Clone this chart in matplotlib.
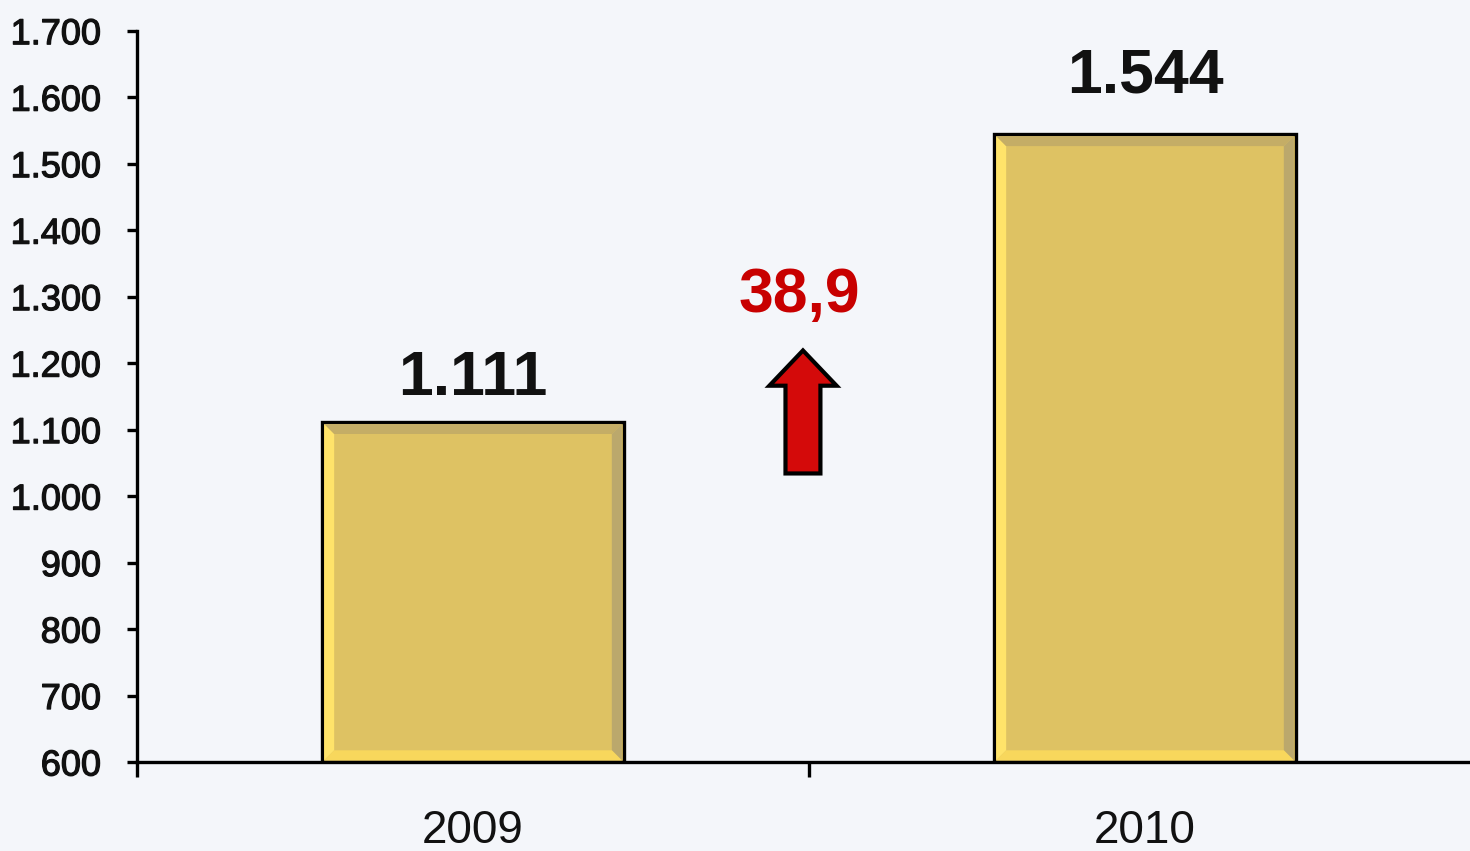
import matplotlib
matplotlib.use("Agg")
import matplotlib.pyplot as plt
import matplotlib.patheffects as pe
from matplotlib.patches import Polygon, FancyArrow
from matplotlib.ticker import FuncFormatter, FixedLocator, NullFormatter

# ---- data ----
years = ["2009", "2010"]
values = [1111, 1544]
value_labels = ["1.111", "1.544"]
growth_label = "38,9"
y_ticks = list(range(600, 1701, 100))
y_min, y_max = 600, 1700

plt.rcParams['font.family'] = ['Liberation Sans', 'DejaVu Sans']

fig = plt.figure(figsize=(14.7, 8.51), dpi=100)
fig.patch.set_facecolor('#F4F6FA')
ax = fig.add_axes([137/1470, 1 - 762/851, (1481 - 137)/1470, (762 - 30.7)/851])
ax.set_facecolor('none')

x = list(range(len(years)))
bars = ax.bar(x, [v - y_min for v in values], width=0.448, bottom=y_min, color='#DEC263',
              edgecolor='black', linewidth=2.4, zorder=3)

ax.set_xlim(-0.5, 1.5)
ax.set_ylim(y_min, y_max)

for s in ['top', 'right']:
    ax.spines[s].set_visible(False)
for s in ['left', 'bottom']:
    ax.spines[s].set_linewidth(2.4)
    ax.spines[s].set_zorder(5)

ax.set_yticks(y_ticks)
ax.yaxis.set_major_formatter(FuncFormatter(lambda v, p: f"{int(v):,}".replace(",", ".")))
ax.tick_params(axis='y', direction='out', length=7, width=2.4, pad=19, labelsize=26)

ax.set_xticks(x)
ax.set_xticklabels(years)
ax.tick_params(axis='x', which='major', length=0, pad=34, labelsize=33)
ax.xaxis.set_minor_locator(FixedLocator([-0.5, 0.5, 1.5]))
ax.xaxis.set_minor_formatter(NullFormatter())
ax.tick_params(axis='x', which='minor', direction='out', length=11, width=2.4)

heavy = [pe.withStroke(linewidth=0.9, foreground='#111111')]
for t in ax.get_yticklabels():
    t.set_path_effects(heavy)
    t.set_color('#111111')
for t in ax.get_xticklabels():
    t.set_color('#111111')

# bevel effect on bars
fig.canvas.draw()
bev = 10
for b in bars:
    bb = b.get_window_extent()
    x0, y0, x1, y1 = bb.x0 + 1.7, bb.y0 + 1.7, bb.x1 - 1.7, bb.y1 - 1.7
    strips = [
        ([(x0, y0), (x0 + bev, y0 + bev), (x0 + bev, y1 - bev), (x0, y1)], '#FFE36A'),
        ([(x0, y1), (x0 + bev, y1 - bev), (x1 - bev, y1 - bev), (x1, y1)], '#C4AD66'),
        ([(x1, y1), (x1 - bev, y1 - bev), (x1 - bev, y0 + bev), (x1, y0)], '#BBA86C'),
        ([(x0, y0), (x0 + bev, y0 + bev), (x1 - bev, y0 + bev), (x1, y0)], '#F8D75C'),
    ]
    for pts, c in strips:
        fig.patches.append(Polygon(pts, closed=True, facecolor=c, edgecolor='none',
                                   transform=None, figure=fig, zorder=4))

# value labels
label_offsets = [20, 30]
for xi, v, lab, off in zip(x, values, value_labels, label_offsets):
    ax.annotate(lab, (xi, v), xytext=(0, off), textcoords='offset points',
                ha='center', va='baseline', fontsize=45, fontweight='bold', color='#111111')

# growth arrow and label
ax.add_patch(FancyArrow(0.491, 1034, 0, 185, width=0.052, head_width=0.1,
                        head_length=53, length_includes_head=True,
                        facecolor='#D40A0A', edgecolor='black', linewidth=3, zorder=6))
ax.text(0.485, 1302, growth_label, ha='center', va='center', fontsize=45,
        fontweight='bold', color='#C80000')

fig.savefig('out.png', dpi=100, facecolor=fig.get_facecolor())
